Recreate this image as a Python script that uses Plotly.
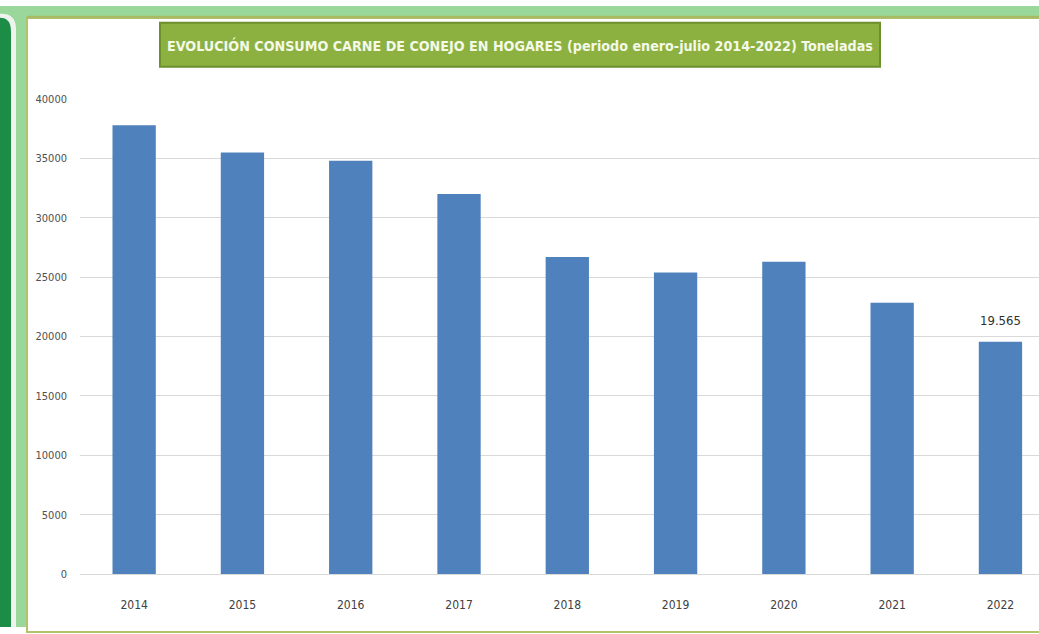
import plotly.graph_objects as go

years = ["2014", "2015", "2016", "2017", "2018", "2019", "2020", "2021", "2022"]
toneladas = [37800, 35500, 34800, 32000, 26700, 25400, 26300, 22850, 19565]
last_label = "19.565"
title_text = "EVOLUCIÓN CONSUMO CARNE DE CONEJO EN HOGARES (periodo enero-julio 2014-2022) Toneladas"
y_ticks = [0, 5000, 10000, 15000, 20000, 25000, 30000, 35000, 40000]

W, H = 1039, 634
FONT = "Liberation Sans Narrow, Arial Narrow, DejaVu Sans Condensed, sans-serif"


def px_x(p):
    return p / W


def px_y(p):
    return 1 - p / H


fig = go.Figure()
fig.add_trace(go.Bar(
    x=years, y=toneladas,
    marker=dict(color="#4f81bd", line=dict(width=0)),
    width=0.4,
    hoverinfo="x+y",
))

shapes = []


def rect(x0, y0, x1, y1, fill, line_color=None, lw=0, layer="below"):
    shapes.append(dict(type="rect", xref="paper", yref="paper",
                       x0=px_x(x0), x1=px_x(x1), y0=px_y(y1), y1=px_y(y0),
                       fillcolor=fill, line=dict(color=line_color or fill, width=lw),
                       layer=layer))


# page background pieces
rect(0, 0, W, H, "#99d79b")
# white card
rect(27, 12, W + 5, H + 5, "#ffffff", "#b3c36a", 2)
# left light stripe around dark panel
shapes.append(dict(type="path", xref="paper", yref="paper", layer="below",
                   path=(f"M {px_x(0)},{px_y(H)} L {px_x(0)},{px_y(8)} "
                         f"L {px_x(2)},{px_y(8)} Q {px_x(16)},{px_y(8)} {px_x(16)},{px_y(24)} "
                         f"L {px_x(16)},{px_y(H)} Z"),
                   fillcolor="#eef3ee", line=dict(width=0)))
shapes.append(dict(type="path", xref="paper", yref="paper", layer="below",
                   path=(f"M {px_x(0)},{px_y(H)} L {px_x(0)},{px_y(12)} "
                         f"Q {px_x(11)},{px_y(12)} {px_x(11)},{px_y(26)} "
                         f"L {px_x(11)},{px_y(H)} Z"),
                   fillcolor="#1c8c46", line=dict(width=0)))
# olive line under top band
rect(27, 10, W, 13, "#a9bb62")
# title box
rect(160, 17, 880, 62, "#8cb140", "#6d8f2c", 2, layer="above")

fig.update_layout(
    width=W, height=H,
    margin=dict(l=0, r=0, t=0, b=0),
    paper_bgcolor="#ffffff",
    plot_bgcolor="rgba(0,0,0,0)",
    showlegend=False,
    shapes=shapes,
    font=dict(family=FONT, color="#404040", size=12),
    xaxis=dict(
        type="category",
        domain=[px_x(80), 1],
        range=[-0.5, 8.356],
        showgrid=False, zeroline=False, showline=False,
        ticks="", ticklabelstandoff=22,
        tickfont=dict(family=FONT, size=12, color="#404040"),
    ),
    yaxis=dict(
        domain=[px_y(580), px_y(95)],
        range=[0, 40000],
        tickvals=y_ticks,
        ticktext=[str(v) for v in y_ticks],
        showgrid=True, gridcolor="#d9d9d9", gridwidth=1,
        zeroline=True, zerolinecolor="#d9d9d9", zerolinewidth=1,
        showline=False, ticks="", ticklabelstandoff=12,
        tickfont=dict(family=FONT, size=11, color="#505050"),
    ),
    annotations=[
        dict(x=len(years) - 1, y=toneladas[-1], xref="x", yref="y",
             text=last_label, showarrow=False, xanchor="center", yanchor="bottom", yshift=12,
             font=dict(family=FONT, size=13, color="#303030")),
        dict(x=px_x(520), y=px_y(40), xref="paper", yref="paper",
             text=f"<b>{title_text}</b>", showarrow=False,
             xanchor="center", yanchor="middle",
             font=dict(family=FONT, size=14.2, color="#f4f9e8")),
    ],
)

post = ("document.documentElement.style.margin='0';"
        "document.body.style.margin='0';document.body.style.overflow='hidden';"
        "var gd=document.getElementById('{plot_id}');"
        "gd.style.position='fixed';gd.style.top='0';gd.style.left='0';")

fig.write_html("out.html", config={"displayModeBar": False}, post_script=post)
